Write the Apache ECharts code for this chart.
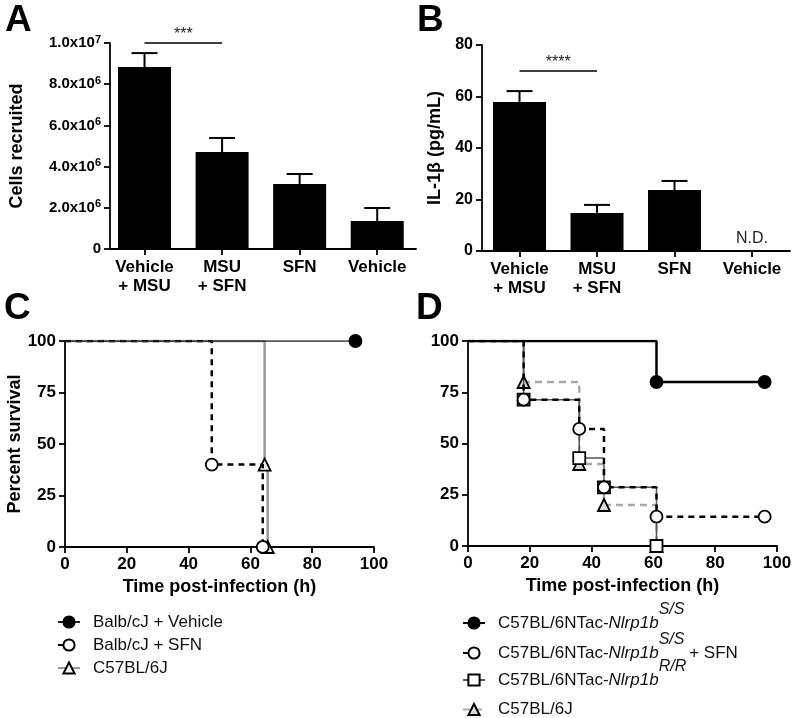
<!DOCTYPE html>
<html>
<head>
<meta charset="utf-8">
<script src="https://cdn.jsdelivr.net/npm/echarts@6/dist/echarts.min.js"></script>
<style>
  html, body { margin: 0; padding: 0; background: #fff; }
  #chart { width: 797px; height: 718px; }
</style>
</head>
<body>
<div id="chart"></div>
<script>
// bar panels (A, B)
const barCategories = ["Vehicle\n+ MSU", "MSU\n+ SFN", "SFN", "Vehicle"];
const cellsMean = [8.83e6, 4.71e6, 3.16e6, 1.36e6];
const cellsUpper = [9.51e6, 5.39e6, 3.64e6, 1.99e6];
const il1bMean = [57.9, 14.8, 23.7, null]; // last one not detected
const il1bUpper = [62.1, 17.9, 27.2, null];
const cellsSig = [0, 1, 1.0e7];
const il1bSig = [0, 1, 70];

// survival panel C
const cVehicleTime = [0, 94];
const cVehicleSurv = [100, 100];
const cSfnTime = [0, 47.5, 64];
const cSfnSurv = [100, 40, 0];
const cB6Time = [0, 64.6, 65.6];
const cB6Surv = [100, 40, 0];

// survival panel D
const dSSTime = [0, 61, 96];
const dSSSurv = [100, 80, 80];
const dSfnTime = [0, 18, 36, 44, 61, 96];
const dSfnSurv = [100, 71.4, 57.1, 28.6, 14.3, 14.3];
const dRRTime = [0, 18, 36, 44, 61];
const dRRSurv = [100, 71.4, 42.9, 28.6, 0];
const dB6Time = [0, 18, 36, 44, 61];
const dB6Surv = [100, 80, 40, 20, 0];

const FONT = "Liberation Sans, Arial, Helvetica, sans-serif";

const legendLabels = {
  c1: "Balb/cJ + Vehicle",
  c2: "Balb/cJ + SFN",
  c3: "C57BL/6J",
  d1: "{n|C57BL/6NTac-}{i|Nlrp1b}{s|S/S}",
  d2: "{n|C57BL/6NTac-}{i|Nlrp1b}{s|S/S}{n| + SFN}",
  d3: "{n|C57BL/6NTac-}{i|Nlrp1b}{s|R/R}",
  d4: "{n|C57BL/6J}",
};

function steps(times, surv) {
  // first point of each curve has no marker
  return times.map((t, i) =>
    i === 0 ? { value: [t, surv[i]], symbol: "none" } : [t, surv[i]]
  );
}

function sciLabel(v) {
  if (v === 0) return "{n|0}";
  const exp = Math.floor(Math.log10(v) + 1e-9);
  const m = v / Math.pow(10, exp);
  return "{n|" + m.toFixed(1) + "x10}{sup|" + exp + "}";
}

const axisLine = { show: true, onZero: false, lineStyle: { color: "#000", width: 1.8 } };
const axisTick = { show: true, length: 6, lineStyle: { color: "#000", width: 1.8 } };

function barXAxis(grid, min, max) {
  return {
    gridIndex: grid,
    type: "value",
    min: min,
    max: max,
    axisLine: axisLine,
    splitLine: { show: false },
    axisTick: Object.assign({ customValues: [0, 1, 2, 3] }, axisTick),
    axisLabel: {
      customValues: [0, 1, 2, 3],
      formatter: (v) => barCategories[v],
      color: "#000",
      fontFamily: FONT,
      fontWeight: "bold",
      fontSize: 17,
      lineHeight: 19,
      margin: 9,
    },
  };
}

function survAxisX(grid, title) {
  return {
    gridIndex: grid,
    type: "value",
    min: 0,
    max: 100,
    interval: 20,
    axisLine: axisLine,
    axisTick: axisTick,
    splitLine: { show: false },
    axisLabel: { color: "#000", fontFamily: FONT, fontWeight: "bold", fontSize: 17, margin: 9 },
    name: title,
    nameLocation: "middle",
    nameGap: 31,
    nameTextStyle: { color: "#000", fontFamily: FONT, fontWeight: "bold", fontSize: 18 },
  };
}

function survAxisY(grid, title) {
  return {
    gridIndex: grid,
    type: "value",
    min: 0,
    max: 100,
    interval: 25,
    axisLine: axisLine,
    axisTick: axisTick,
    splitLine: { show: false },
    axisLabel: { color: "#000", fontFamily: FONT, fontWeight: "bold", fontSize: 17, margin: 9 },
    name: title,
    nameLocation: "middle",
    nameGap: 41,
    nameTextStyle: { color: "#000", fontFamily: FONT, fontWeight: "bold", fontSize: 18 },
  };
}

function errorBars(means, uppers, axis) {
  const data = [];
  means.forEach((m, i) => {
    if (m != null) data.push([i, m, uppers[i]]);
  });
  return {
    type: "custom",
    xAxisIndex: axis,
    yAxisIndex: axis,
    z: 3,
    silent: true,
    encode: { x: 0, y: [1, 2] },
    data: data,
    renderItem: (params, api) => {
      const base = api.coord([api.value(0), api.value(1)]);
      const top = api.coord([api.value(0), api.value(2)]);
      const half = 13;
      const style = { stroke: "#000", lineWidth: 2 };
      return {
        type: "group",
        children: [
          { type: "line", shape: { x1: base[0], y1: base[1], x2: top[0], y2: top[1] }, style: style },
          { type: "line", shape: { x1: top[0] - half, y1: top[1], x2: top[0] + half, y2: top[1] }, style: style },
        ],
      };
    },
  };
}

function barSeries(means, axis, sig, stars) {
  return {
    type: "bar",
    xAxisIndex: axis,
    yAxisIndex: axis,
    barWidth: 53,
    itemStyle: { color: "#000" },
    data: means.map((m, i) =>
      m == null
        ? {
            value: [i, 0],
            label: {
              show: true,
              position: "top",
              distance: 4,
              formatter: "N.D.",
              color: "#222",
              fontFamily: FONT,
              fontSize: 16,
            },
          }
        : [i, m]
    ),
    markLine: {
      silent: true,
      symbol: "none",
      lineStyle: { color: "#000", width: 1.5, type: "solid" },
      label: {
        position: "middle",
        formatter: stars,
        color: "#222",
        fontFamily: FONT,
        fontSize: 16,
        distance: 0,
      },
      data: [[{ coord: [sig[0], sig[2]] }, { coord: [sig[1], sig[2]] }]],
    },
  };
}

function survLine(name, axis, times, surv, line, symbol, symbolColor, z) {
  return {
    name: name,
    type: "line",
    xAxisIndex: axis,
    yAxisIndex: axis,
    step: "end",
    z: z,
    symbol: symbol,
    symbolSize: 12,
    showAllSymbol: true,
    lineStyle: line,
    itemStyle: { color: symbolColor, borderColor: "#000", borderWidth: 1.8 },
    data: steps(times, surv),
  };
}

// one legend block per D entry, superscripts need tall lines
function dLegend(key, top, lineHeight) {
  return {
    orient: "vertical",
    left: 462,
    top: top,
    padding: 0,
    itemWidth: 22,
    itemHeight: 14,
    selectedMode: false,
    data: [key],
    formatter: (name) => legendLabels[name],
    textStyle: {
      color: "#111",
      fontFamily: FONT,
      fontSize: 17,
      padding: [0, 0, 0, 8],
      rich: {
        n: { color: "#111", fontFamily: FONT, fontSize: 17, lineHeight: lineHeight },
        i: { color: "#111", fontFamily: FONT, fontSize: 17, fontStyle: "italic", lineHeight: lineHeight },
        s: { color: "#111", fontFamily: FONT, fontSize: 16, fontStyle: "italic", lineHeight: 15, verticalAlign: "top" },
      },
    },
  };
}

const chart = echarts.init(document.getElementById("chart"));

const option = {
  animation: false,
  backgroundColor: "#fff",
  textStyle: { fontFamily: FONT },
  graphic: [
    { type: "text", left: 5, top: 2, style: { text: "A", font: "bold 37px " + FONT, fill: "#000" } },
    { type: "text", left: 417, top: 2, style: { text: "B", font: "bold 37px " + FONT, fill: "#000" } },
    { type: "text", left: 4, top: 290, style: { text: "C", font: "bold 37px " + FONT, fill: "#000" } },
    { type: "text", left: 416, top: 290, style: { text: "D", font: "bold 37px " + FONT, fill: "#000" } },
  ],
  grid: [
    { left: 110, top: 43, width: 306, height: 206 },
    { left: 482, top: 45, width: 308, height: 206 },
    { left: 65, top: 341, width: 309, height: 206 },
    { left: 468, top: 341, width: 309, height: 205 },
  ],
  xAxis: [
    barXAxis(0, -0.445, 3.5),
    barXAxis(1, -0.484, 3.49),
    survAxisX(2, "Time post-infection (h)"),
    survAxisX(3, "Time post-infection (h)"),
  ],
  yAxis: [
    {
      gridIndex: 0,
      type: "value",
      min: 0,
      max: 1e7,
      interval: 2e6,
      axisLine: axisLine,
      axisTick: axisTick,
      splitLine: { show: false },
      axisLabel: {
        formatter: sciLabel,
        margin: 9,
        rich: {
          n: { color: "#000", fontFamily: FONT, fontWeight: "bold", fontSize: 15, lineHeight: 18 },
          sup: { color: "#000", fontFamily: FONT, fontWeight: "bold", fontSize: 11, lineHeight: 11, verticalAlign: "top" },
        },
      },
      name: "Cells recruited",
      nameLocation: "middle",
      nameGap: 84,
      nameTextStyle: { color: "#000", fontFamily: FONT, fontWeight: "bold", fontSize: 18 },
    },
    {
      gridIndex: 1,
      type: "value",
      min: 0,
      max: 80,
      interval: 20,
      axisLine: axisLine,
      axisTick: axisTick,
      splitLine: { show: false },
      axisLabel: { color: "#000", fontFamily: FONT, fontWeight: "bold", fontSize: 16, margin: 9 },
      name: "IL-1β (pg/mL)",
      nameLocation: "middle",
      nameGap: 38,
      nameTextStyle: { color: "#000", fontFamily: FONT, fontWeight: "bold", fontSize: 18 },
    },
    survAxisY(2, "Percent survival"),
    survAxisY(3, ""),
  ],
  legend: [
    {
      orient: "vertical",
      left: 57,
      top: 613,
      padding: 0,
      itemWidth: 22,
      itemHeight: 14,
      itemGap: 5,
      selectedMode: false,
      data: ["c1", "c2", "c3"],
      formatter: (name) => legendLabels[name],
      textStyle: { color: "#111", fontFamily: FONT, fontSize: 17, lineHeight: 18, padding: [0, 0, 0, 8] },
    },
    dLegend("d1", 602, 42),
    dLegend("d2", 632, 42),
    dLegend("d3", 659, 42),
    dLegend("d4", 701, 20),
  ],
  series: [
    barSeries(cellsMean, 0, cellsSig, "***"),
    errorBars(cellsMean, cellsUpper, 0),
    barSeries(il1bMean, 1, il1bSig, "****"),
    errorBars(il1bMean, il1bUpper, 1),

    survLine("c3", 2, cB6Time, cB6Surv, { color: "#9a9a9a", width: 2.5 }, "triangle", "#f2f2f2", 2),
    survLine("c2", 2, cSfnTime, cSfnSurv, { color: "#000", width: 2.5, type: [6, 5] }, "circle", "#fff", 3),
    survLine("c1", 2, cVehicleTime, cVehicleSurv, { color: "#222", width: 1.3 }, "circle", "#000", 4),

    survLine("d4", 3, dB6Time, dB6Surv, { color: "#a8a8a8", width: 2.5, type: [7, 5] }, "triangle", "#d8d8d8", 2),
    survLine("d3", 3, dRRTime, dRRSurv, { color: "#555", width: 1.5 }, "rect", "#fff", 3),
    survLine("d2", 3, dSfnTime, dSfnSurv, { color: "#000", width: 2.5, type: [6, 5] }, "circle", "#fff", 4),
    survLine("d1", 3, dSSTime, dSSSurv, { color: "#000", width: 2.5 }, "circle", "#000", 5),
  ],
};

chart.setOption(option);
</script>
</body>
</html>
